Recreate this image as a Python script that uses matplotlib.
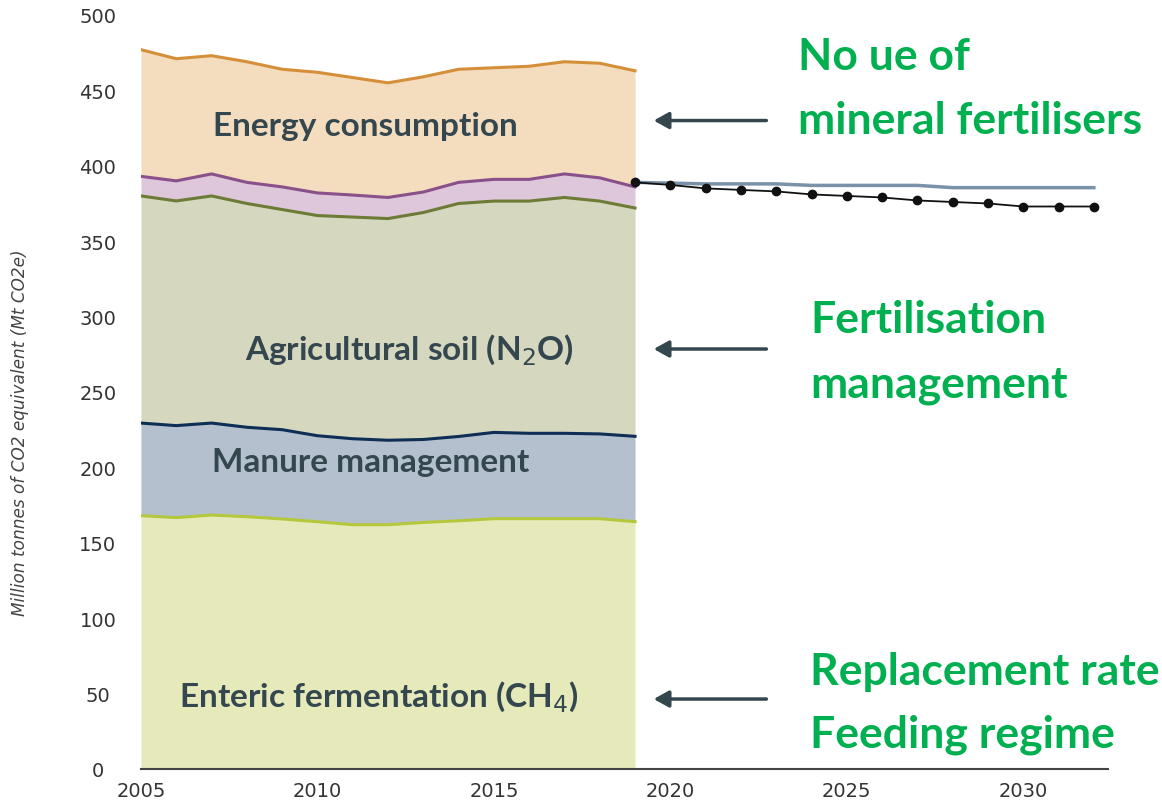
"""
Agricultural GHG emissions by source, with projections to 2032.
"""

import numpy as np
from matplotlib import pyplot as plt

# historic emissions, Mt CO2e, cumulative top edge of each layer
years = np.arange(2005, 2020)
enteric = [168, 166.7, 168.4, 167.3, 165.8, 164, 162, 162, 163.5, 164.6, 166, 166, 166, 166, 164]
manure_top = [229.4, 227.7, 229.4, 226.6, 225, 221, 219, 218, 218.5, 220.5, 223.2, 222.6, 222.6, 222.2, 220.6]
soil_top = [380, 376.7, 380, 375, 371, 367, 366, 365, 369, 375, 376.6, 376.6, 379, 376.6, 372]
other_top = [393, 390, 394.6, 389, 386, 382, 380.6, 379, 382.6, 389, 391, 391, 394.6, 392, 386]
energy_top = [477, 471, 473, 469, 464, 462, 458.5, 455, 459, 464, 465, 466, 469, 468, 463]

# projections
proj_years = np.arange(2019, 2033)
proj_wem = [389, 388.5, 388, 388, 388, 387, 387, 387, 387, 385.5, 385.5, 385.5, 385.5, 385.5]
proj_wam = [389, 387.3, 385, 384, 383, 381, 380, 379, 377, 376, 375, 373, 373, 373]

layers = [
    ("Enteric fermentation", [0] * len(years), enteric, "#e6e9b9", "#b5c73c"),
    ("Manure management", enteric, manure_top, "#b4c0cd", "#0e2e56"),
    ("Agricultural soil", manure_top, soil_top, "#d5d7be", "#6c7b36"),
    ("Other", soil_top, other_top, "#dec7da", "#8a508a"),
    ("Energy consumption", other_top, energy_top, "#f4dcbf", "#d58f39"),
]

label_color = "#34474f"
green = "#00b050"

fig = plt.figure(figsize=(11.62, 8.03), dpi=100)
ax = fig.add_axes([0.1213, 0.0411, 0.8322, 0.9390])

for name, lower, upper, fill, edge in layers:
    ax.fill_between(years, lower, upper, color=fill, linewidth=0)
    ax.plot(years, upper, color=edge, linewidth=2.2)

ax.plot(proj_years, proj_wem, color="#7a92a8", linewidth=2.5)
ax.plot(proj_years, proj_wam, color="#111111", linewidth=1.3, marker="o", markersize=6)

ax.set_xlim(2005, 2032.4)
ax.set_ylim(0, 500)
ax.set_xticks(range(2005, 2031, 5))
ax.set_yticks(range(0, 501, 50))
ax.tick_params(length=0, labelsize=14, colors="#333333")
ax.tick_params(axis="x", pad=9)
ax.tick_params(axis="y", pad=31)
for lab in ax.get_yticklabels():
    lab.set_horizontalalignment("center")
for s in ["top", "right", "left"]:
    ax.spines[s].set_visible(False)
ax.spines["bottom"].set_color("#444444")
ax.spines["bottom"].set_linewidth(1.5)
ax.set_ylabel("Million tonnes of CO2 equivalent (Mt CO2e)", fontsize=12.2,
              style="italic", color="#444444")
ax.yaxis.set_label_coords(-0.116, 0.447)

# layer labels
lab_kw = dict(fontsize=24, fontweight="bold", color=label_color, family="Lato",
              ha="center", va="center")
ax.text(2011.35, 427, "Energy consumption", **lab_kw)
ax.text(2012.6, 278, "Agricultural soil (N$_2$O)", **lab_kw)
ax.text(2011.5, 204, "Manure management", **lab_kw)
ax.text(2011.75, 48, "Enteric fermentation (CH$_4$)", **lab_kw)

# arrows pointing back to the layers
for y in [430, 278.5, 46.4]:
    ax.annotate("", xy=(2019.45, y), xytext=(2022.8, y),
                arrowprops=dict(arrowstyle="-|>,head_length=0.9,head_width=0.5",
                                color=label_color, lw=2.5))

# measures
g_kw = dict(fontsize=32, fontweight="bold", color=green, family="Lato",
            ha="left", va="center")
fig.text(0.687, 0.929, "No ue of", **g_kw)
fig.text(0.687, 0.849, "mineral fertilisers", **g_kw)
fig.text(0.697, 0.601, "Fertilisation", **g_kw)
fig.text(0.697, 0.520, "management", **g_kw)
fig.text(0.697, 0.163, "Replacement rate", **g_kw)
fig.text(0.697, 0.085, "Feeding regime", **g_kw)

plt.savefig("out.png", dpi=100)
